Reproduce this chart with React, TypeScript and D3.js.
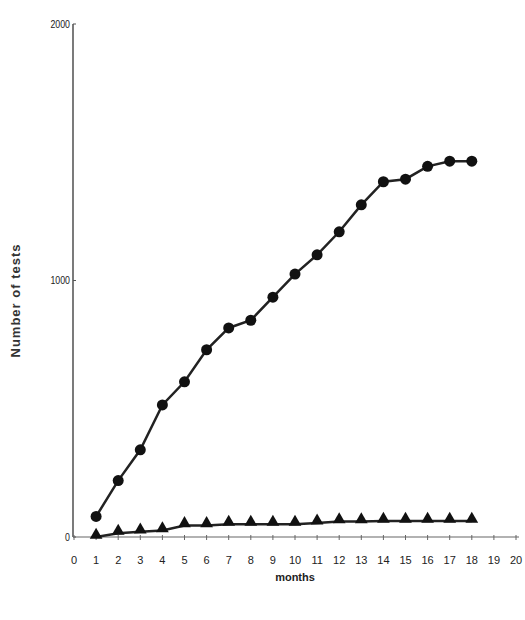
import * as d3 from 'd3'

const months = d3.range(1, 19)
const testsA = [80, 220, 340, 515, 605, 730, 815, 845, 935, 1025, 1100, 1190, 1295, 1385, 1395, 1445, 1465, 1465]
const testsB = [0, 15, 20, 25, 45, 45, 50, 50, 50, 50, 55, 60, 60, 62, 62, 62, 62, 62]
const xTicks = d3.range(0, 21)
const yTicks = [0, 1000, 2000]

const W = 525, H = 620
const m = { left: 73, right: 9, top: 24, bottom: 83 }

export default function App() {
  const x = d3.scaleLinear().domain([0, 20]).range([m.left + 1, W - m.right])
  const y = d3.scaleLinear().domain([0, 2000]).range([H - m.bottom, m.top])
  const line = d3.line<number>().x((_, i) => x(months[i])).y(d => y(d))
  const tri = d3.symbol().type(d3.symbolTriangle).size(70)()
  return (
    <svg width={W} height={H} style={{ position: 'absolute', left: 0, top: 0, fontFamily: 'Liberation Sans, Arial, sans-serif' }}>
      <rect width={W} height={H} fill="#fff" />
      <line x1={m.left} x2={m.left} y1={m.top} y2={y(0)} stroke="#333" strokeWidth={1.3} />
      <line x1={m.left} x2={x(20) + 3} y1={y(0)} y2={y(0)} stroke="#999" strokeWidth={1.5} />
      {yTicks.map(t => (
        <g key={t}>
          <line x1={m.left} x2={m.left + 3} y1={y(t)} y2={y(t)} stroke="#555" />
          <text x={m.left - 3} y={y(t) + 4} fontSize={11} textAnchor="end" fill="#222" transform={`translate(${m.left - 3},0) scale(0.8,1) translate(${-(m.left - 3)},0)`}>{t}</text>
        </g>
      ))}
      {xTicks.map(t => (
        <g key={t}>
          <line x1={x(t)} x2={x(t)} y1={y(0) - 2} y2={y(0) + 3} stroke="#666" />
          <text x={x(t)} y={y(0) + 27} fontSize={11} textAnchor="middle" fill="#222">{t}</text>
        </g>
      ))}
      <text x={x(10)} y={y(0) + 44} fontSize={11} textAnchor="middle" fontWeight="bold" fill="#222">months</text>
      <text transform={`translate(20,${y(1000) + 20}) rotate(-90)`} fontSize={13} textAnchor="middle" fontWeight="bold" fill="#333" letterSpacing={1}>Number of tests</text>
      <path d={line(testsB) ?? ''} fill="none" stroke="#222" strokeWidth={2.5} />
      <path d={line(testsA) ?? ''} fill="none" stroke="#222" strokeWidth={2.5} />
      {testsB.map((v, i) => (
        <path key={i} d={tri ?? ''} transform={`translate(${x(months[i])},${y(v) - 2})`} fill="#111" />
      ))}
      {testsA.map((v, i) => (
        <circle key={i} cx={x(months[i])} cy={y(v)} r={5.5} fill="#111" />
      ))}
    </svg>
  )
}
